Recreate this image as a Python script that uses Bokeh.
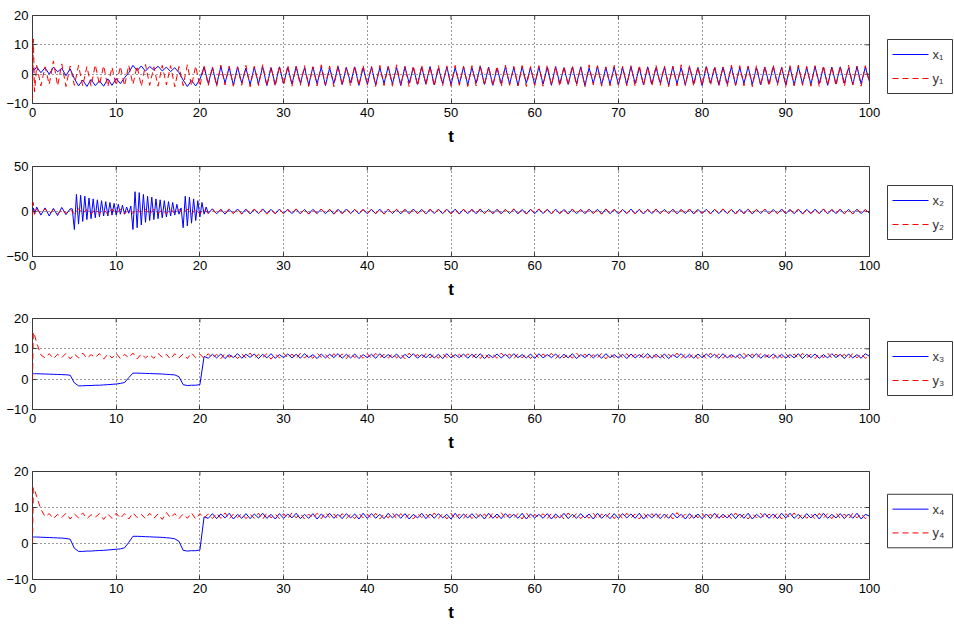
import numpy as np
from bokeh.plotting import figure
from bokeh.models import Range1d, FixedTicker
from bokeh.core.properties import value
from bokeh.layouts import column, row
from bokeh.embed import file_html
from bokeh.resources import INLINE

# sample times: three early samples, then every 0.5 up to 100
t_early = [0.0, 0.1, 0.25]
t = np.concatenate([t_early, np.arange(1, 201) * 0.5])
# x2 was read more finely during its bursts (4.75 .. 21 every 0.25)
t_x2 = np.concatenate([t_early, np.arange(1, 10) * 0.5,
                       np.arange(19, 85) * 0.25, np.arange(43, 201) * 0.5])

x_ticks = [0, 10, 20, 30, 40, 50, 60, 70, 80, 90, 100]

# ---------------- panel 1 ----------------
x1 = [0, 2, 1.5,
      2.5, 0.5, 2.2, 0.0, 2.4, 0.8, 2.0, -0.5, 1.8, -1.5, -4.0, -2.0, -4.2, -1.8, -3.9, -2.3, -4.1, -1.6, -3.8, -1.5,
      -3.2, -1.2, 0.5, 3.0, 1.2, 2.8, 1.0, 2.6, 1.4, 2.7, 1.1, 2.4, 0.9, 2.2, 0.5, -2.0, -4.2, -2.2, -4.0, -1.8,
      2.5, -3.2, 2.2, -3.6, 2.6, -3.0, 2.3, -3.8, 2.5, -3.1, 2.1, -3.6, 2.4, -3.3, 2.6, -3.9, 2.2, -3.5, 2.5, -3.2,
      2.3, -3.4, 2.6, -3.1, 2.2, -3.7, 2.5, -3.3, 2.4, -3.9, 2.1, -3.2, 2.6, -3.5, 2.3, -3.0, 2.5, -3.8, 2.2, -3.4,
      2.4, -3.6, 2.2, -3.2, 2.6, -3.4, 2.3, -3.9, 2.5, -3.1, 2.2, -3.5, 2.4, -3.3, 2.6, -3.7, 2.1, -3.2, 2.5, -3.6,
      2.2, -3.3, 2.5, -3.7, 2.3, -3.1, 2.6, -3.5, 2.4, -3.8, 2.1, -3.2, 2.5, -3.4, 2.3, -3.9, 2.6, -3.1, 2.2, -3.5,
      2.5, -3.4, 2.3, -3.8, 2.6, -3.2, 2.2, -3.5, 2.4, -3.3, 2.5, -3.9, 2.1, -3.1, 2.6, -3.6, 2.3, -3.4, 2.4, -3.7,
      2.3, -3.5, 2.6, -3.2, 2.2, -3.7, 2.5, -3.4, 2.3, -3.1, 2.4, -3.8, 2.6, -3.3, 2.2, -3.6, 2.5, -3.2, 2.3, -3.9,
      2.6, -3.1, 2.2, -3.6, 2.4, -3.4, 2.5, -3.8, 2.3, -3.2, 2.6, -3.5, 2.2, -3.7, 2.4, -3.3, 2.5, -3.1, 2.3, -3.6,
      2.4, -3.7, 2.5, -3.3, 2.2, -3.5, 2.6, -3.2, 2.3, -3.8, 2.4, -3.4, 2.5, -3.1, 2.2, -3.6, 2.6, -3.3, 2.4, -2.5]
y1 = [-9, 12, -6,
      3.0, -4.0, 2.5, -3.5, 4.5, -4.0, 3.5, -4.2, 2.8, -3.8, 3.0, -4.0, 2.6, -4.1, 3.2, -3.6, 2.9, -4.3, 2.4, -3.9,
      2.7, -4.0, 3.1, -3.5, 2.8, -4.2, 3.3, -3.8, 2.5, -4.1, 3.0, -3.7, 2.9, -4.3, 2.6, -3.9, 3.2, -4.0, 2.8, -4.2,
      2.9, -3.9, 2.6, -4.2, 3.1, -3.7, 2.8, -4.1, 2.5, -3.8, 3.0, -4.3, 2.7, -3.9, 3.2, -4.0, 2.6, -4.2, 2.9, -3.8,
      3.1, -4.1, 2.7, -3.8, 2.9, -4.2, 2.5, -4.0, 3.2, -3.7, 2.8, -4.3, 3.0, -3.9, 2.6, -4.1, 2.9, -4.0, 3.1, -3.8,
      2.8, -4.2, 3.0, -3.9, 2.6, -4.1, 3.2, -3.8, 2.7, -4.3, 2.9, -4.0, 3.1, -3.7, 2.5, -4.2, 3.0, -3.9, 2.8, -4.1,
      3.0, -3.8, 2.7, -4.2, 2.9, -4.0, 3.2, -3.9, 2.6, -4.1, 2.8, -4.3, 3.1, -3.8, 2.7, -4.0, 2.9, -4.2, 2.6, -3.9,
      2.9, -4.1, 3.1, -3.8, 2.7, -4.2, 2.8, -3.9, 3.0, -4.0, 2.6, -4.3, 3.2, -3.7, 2.9, -4.1, 2.5, -4.0, 3.0, -3.8,
      2.7, -4.0, 2.9, -4.2, 3.1, -3.9, 2.6, -4.1, 3.0, -3.8, 2.8, -4.3, 2.7, -4.0, 3.2, -3.9, 2.9, -4.2, 2.6, -4.0,
      3.0, -3.9, 2.8, -4.1, 2.6, -4.2, 3.1, -3.8, 2.9, -4.0, 2.7, -4.3, 3.0, -3.9, 2.8, -4.1, 3.2, -3.8, 2.6, -4.2,
      2.9, -4.0, 3.1, -3.8, 2.7, -4.1, 2.9, -4.3, 3.0, -3.9, 2.6, -4.0, 2.8, -4.2, 3.1, -3.7, 2.7, -4.1, 2.9, -3.0]

# ---------------- panel 2 ----------------
x2 = [0, 4, -3,
      5.0, -4.0, 4.0, -5.0, 3.5, -4.5, 4.5, -3.5, 3.0,
      3.0, -20.0, 19.0, -14.0, 18.0, -11.0, 17.0, -9.0, 15.0, -8.0, 14.0, -7.0, 13.0, -6.0, 12.0, -5.0, 11.0,
      -5.0, 10.0, -4.0, 9.0, -4.0, 8.0, -3.0, 7.0, -3.0, 5.0, -2.0, 6.0, -20.0, 22.0, -18.0, 21.0, -15.0, 19.0,
      -12.0, 17.0, -10.0, 16.0, -9.0, 14.0, -8.0, 13.0, -7.0, 12.0, -6.0, 11.0, -5.0, 10.0, -4.0, 8.0, -3.0, 4.0,
      -18.0, 17.0, -16.0, 16.0, -13.0, 14.0, -10.0, 12.0, -6.0, 10.0, -3.0, 5.0, -2.0,
      3.0, -2.6, 2.4, -2.9, 2.2, -2.3, 2.8, -2.5, 2.6, -2.7, 2.3, -2.4, 2.9, -2.2, 2.4, -2.6, 2.7, -2.4,
      2.5, -2.4, 2.7, -2.6, 2.3, -2.7, 2.4, -2.2, 2.6, -2.5, 2.3, -2.8, 2.5, -2.3, 2.7, -2.4, 2.2, -2.6, 2.4, -2.5,
      2.4, -2.5, 2.6, -2.7, 2.5, -2.3, 2.3, -2.6, 2.5, -2.4, 2.7, -2.5, 2.3, -2.7, 2.4, -2.3, 2.6, -2.5, 2.5, -2.4,
      2.6, -2.7, 2.3, -2.4, 2.5, -2.5, 2.7, -2.3, 2.4, -2.6, 2.5, -2.5, 2.4, -2.3, 2.7, -2.6, 2.3, -2.7, 2.5, -2.4,
      2.5, -2.3, 2.4, -2.6, 2.6, -2.4, 2.3, -2.7, 2.5, -2.5, 2.4, -2.4, 2.6, -2.3, 2.5, -2.7, 2.7, -2.5, 2.3, -2.6,
      2.4, -2.4, 2.7, -2.5, 2.3, -2.7, 2.5, -2.4, 2.6, -2.3, 2.4, -2.5, 2.5, -2.6, 2.3, -2.4, 2.6, -2.6, 2.4, -2.3,
      2.5, -2.6, 2.4, -2.4, 2.6, -2.3, 2.3, -2.6, 2.5, -2.5, 2.7, -2.7, 2.4, -2.3, 2.5, -2.5, 2.3, -2.4, 2.6, -2.5,
      2.3, -2.5, 2.5, -2.7, 2.4, -2.4, 2.6, -2.3, 2.7, -2.6, 2.3, -2.4, 2.5, -2.5, 2.4, -2.7, 2.5, -2.4, 2.3, -2.1]
y2 = [-5, 10, -3,
      2.5, -2.0, 3.0, -2.5, 2.0, -3.0, 2.8, -2.2, 2.4, -2.7, 3.1, -2.1, 2.2, -2.9, 2.7, -2.4, 2.1, -3.0, 2.9, -2.3,
      2.6, -2.8, 2.2, -2.1, 3.0, -2.6, 2.3, -3.1, 2.7, -2.2, 2.1, -2.7, 2.9, -2.4, 2.4, -2.0, 2.8, -2.9, 2.2, -2.5,
      3.0, -2.3, 2.5, -2.8, 2.2, -2.4, 2.9, -2.1, 2.6, -3.0, 2.3, -2.5, 2.8, -2.2, 2.1, -2.9, 2.7, -2.3, 2.4, -2.7,
      2.2, -2.6, 2.9, -2.3, 2.4, -2.9, 2.1, -2.5, 2.8, -2.2, 2.6, -3.0, 2.3, -2.4, 2.9, -2.1, 2.5, -2.8, 2.2, -2.6,
      2.7, -2.2, 2.3, -2.9, 2.8, -2.4, 2.5, -2.1, 2.2, -2.7, 3.0, -2.3, 2.4, -2.8, 2.6, -2.5, 2.1, -2.2, 2.9, -2.6,
      2.4, -2.9, 2.6, -2.2, 2.1, -2.6, 2.9, -2.4, 2.3, -2.1, 2.7, -2.8, 2.2, -2.5, 3.0, -2.3, 2.4, -2.9, 2.6, -2.2,
      2.9, -2.4, 2.2, -2.7, 2.6, -2.1, 2.4, -2.9, 2.8, -2.3, 2.1, -2.6, 2.7, -2.2, 2.3, -3.0, 2.9, -2.4, 2.5, -2.8,
      2.3, -2.1, 2.8, -2.6, 2.5, -2.9, 2.2, -2.3, 2.9, -2.5, 2.4, -2.2, 2.6, -2.8, 2.1, -2.4, 2.8, -2.7, 2.3, -2.1,
      2.6, -2.7, 2.4, -2.3, 2.9, -2.5, 2.1, -2.8, 2.5, -2.2, 2.8, -2.9, 2.3, -2.1, 2.7, -2.6, 2.2, -2.4, 3.0, -2.3,
      2.2, -2.5, 2.7, -2.9, 2.3, -2.2, 2.6, -2.4, 2.9, -2.7, 2.2, -2.1, 2.8, -2.6, 2.4, -2.8, 2.5, -2.3, 2.1, -2.0]

# ---------------- panel 3 ----------------
x3 = [1.8, 1.8, 1.8,
      1.8, 1.75, 1.7, 1.65, 1.6, 1.55, 1.5, 1.45, 1.3, -1.2, -2.2, -2.2, -2.1, -2.1, -2.0, -2.0, -1.9, -1.8, -1.7, -1.6,
      -1.4, -1.1, 0.5, 2.0, 2.0, 1.95, 1.9, 1.85, 1.8, 1.75, 1.7, 1.6, 1.5, 1.4, 0.8, -1.8, -2.1, -2.0, -2.0, -1.8,
      7.5, 6.9, 8.2, 7.0, 8.3, 6.8, 8.1, 7.1, 8.4, 6.9, 8.2, 7.2, 8.3, 6.8, 8.2, 7.0, 8.4, 6.9, 8.1, 7.1,
      8.3, 7.0, 8.2, 6.9, 8.4, 7.1, 8.1, 6.8, 8.3, 7.0, 8.2, 7.1, 8.4, 6.9, 8.2, 7.0, 8.3, 6.8, 8.1, 7.1,
      8.2, 6.9, 8.4, 7.0, 8.1, 7.1, 8.3, 6.8, 8.2, 7.0, 8.4, 6.9, 8.1, 7.1, 8.3, 7.0, 8.2, 6.8, 8.4, 7.0,
      8.1, 7.1, 8.3, 6.9, 8.2, 7.0, 8.4, 6.8, 8.1, 7.1, 8.3, 7.0, 8.2, 6.9, 8.4, 7.1, 8.1, 7.0, 8.3, 6.8,
      8.4, 7.0, 8.1, 7.1, 8.3, 6.9, 8.2, 7.0, 8.4, 6.8, 8.1, 7.1, 8.3, 7.0, 8.2, 6.9, 8.4, 7.1, 8.1, 7.0,
      8.2, 6.8, 8.3, 7.0, 8.1, 7.1, 8.4, 6.9, 8.2, 7.0, 8.3, 6.8, 8.1, 7.1, 8.4, 7.0, 8.2, 6.9, 8.3, 7.1,
      8.3, 7.1, 8.2, 6.9, 8.4, 7.0, 8.1, 7.1, 8.3, 6.8, 8.2, 7.0, 8.4, 6.9, 8.1, 7.1, 8.3, 7.0, 8.2, 6.9,
      8.1, 7.0, 8.4, 6.8, 8.2, 7.1, 8.3, 6.9, 8.1, 7.0, 8.4, 7.1, 8.2, 6.8, 8.3, 7.0, 8.1, 6.9, 8.4, 7.5]
y3 = [0, 15.5, 14.5,
      12.0, 8.0, 7.0, 8.4, 6.8, 8.2, 7.1, 8.5, 6.7, 8.3, 7.0, 8.6, 6.9, 8.1, 7.2, 8.4, 6.6, 8.3, 7.0, 8.5,
      6.8, 8.2, 7.1, 8.6, 6.7, 8.3, 7.0, 8.1, 6.9, 8.5, 7.2, 8.2, 6.6, 8.4, 7.0, 8.3, 6.8, 8.6, 7.1, 8.2,
      6.9, 8.4, 7.0, 8.2, 6.7, 8.5, 7.2, 8.1, 6.8, 8.3, 7.0, 8.6, 6.9, 8.2, 7.1, 8.4, 6.6, 8.3, 7.0, 8.5,
      7.1, 8.3, 6.8, 8.5, 7.0, 8.2, 6.9, 8.6, 7.2, 8.1, 6.7, 8.4, 7.0, 8.3, 6.8, 8.5, 7.1, 8.2, 6.9, 8.4,
      6.8, 8.5, 7.1, 8.2, 6.9, 8.4, 7.0, 8.3, 6.7, 8.6, 7.2, 8.1, 6.8, 8.4, 7.0, 8.2, 6.9, 8.5, 7.1, 8.3,
      7.0, 8.2, 6.9, 8.4, 7.1, 8.3, 6.8, 8.5, 7.0, 8.1, 6.9, 8.6, 7.2, 8.3, 6.7, 8.4, 7.0, 8.2, 6.8, 8.5,
      6.9, 8.3, 7.2, 8.5, 6.8, 8.2, 7.0, 8.4, 6.9, 8.6, 7.1, 8.3, 6.8, 8.1, 7.0, 8.5, 6.7, 8.3, 7.1, 8.4,
      7.1, 8.4, 6.8, 8.2, 7.0, 8.5, 6.9, 8.3, 7.2, 8.4, 6.8, 8.2, 7.0, 8.6, 6.9, 8.3, 7.1, 8.5, 6.8, 8.2,
      6.8, 8.6, 7.0, 8.3, 6.9, 8.4, 7.1, 8.2, 6.8, 8.5, 7.0, 8.3, 6.9, 8.4, 7.2, 8.1, 6.8, 8.5, 7.0, 8.3,
      7.0, 8.3, 6.9, 8.5, 7.1, 8.2, 6.8, 8.4, 7.0, 8.6, 6.9, 8.3, 7.1, 8.2, 6.8, 8.5, 7.0, 8.4, 6.9, 7.6]

# ---------------- panel 4 ----------------
x4 = [1.8, 1.8, 1.8,
      1.8, 1.75, 1.7, 1.65, 1.6, 1.55, 1.5, 1.4, 1.2, -1.3, -2.2, -2.2, -2.1, -2.1, -2.0, -1.95, -1.9, -1.8, -1.7, -1.6,
      -1.5, -1.2, 0.3, 2.0, 2.0, 1.95, 1.9, 1.85, 1.8, 1.75, 1.7, 1.6, 1.5, 1.3, 0.6, -1.9, -2.1, -2.0, -2.0, -1.8,
      7.4, 7.0, 8.3, 6.9, 8.2, 7.1, 8.4, 6.8, 8.1, 7.0, 8.3, 6.9, 8.2, 7.1, 8.4, 7.0, 8.1, 6.8, 8.3, 7.0,
      8.2, 7.1, 8.4, 6.9, 8.1, 7.0, 8.3, 6.8, 8.2, 7.1, 8.4, 7.0, 8.1, 6.9, 8.3, 7.1, 8.2, 6.8, 8.4, 7.0,
      8.3, 7.0, 8.1, 6.9, 8.4, 7.1, 8.2, 7.0, 8.3, 6.8, 8.1, 7.1, 8.4, 6.9, 8.2, 7.0, 8.3, 7.1, 8.1, 6.8,
      8.4, 6.9, 8.2, 7.1, 8.3, 7.0, 8.1, 6.8, 8.4, 7.0, 8.2, 6.9, 8.3, 7.1, 8.1, 7.0, 8.4, 6.8, 8.2, 7.1,
      8.1, 7.0, 8.3, 6.8, 8.2, 7.1, 8.4, 6.9, 8.1, 7.0, 8.3, 7.1, 8.2, 6.8, 8.4, 7.0, 8.1, 6.9, 8.3, 7.0,
      8.3, 7.1, 8.2, 7.0, 8.4, 6.8, 8.1, 7.1, 8.3, 6.9, 8.2, 7.0, 8.4, 7.1, 8.1, 6.8, 8.3, 7.0, 8.2, 6.9,
      8.2, 6.9, 8.4, 7.0, 8.1, 7.1, 8.3, 6.9, 8.2, 7.0, 8.4, 6.8, 8.1, 7.1, 8.3, 7.0, 8.2, 6.9, 8.4, 7.1,
      8.4, 7.0, 8.1, 6.9, 8.3, 7.1, 8.2, 6.8, 8.4, 7.0, 8.1, 7.1, 8.3, 6.9, 8.2, 7.0, 8.4, 6.8, 8.1, 7.6]
y4 = [0, 15.5, 15.0,
      13.0, 9.5, 7.5, 8.3, 6.9, 8.1, 7.2, 8.4, 6.8, 8.2, 7.1, 8.5, 6.9, 8.0, 7.3, 8.3, 6.7, 8.2, 7.0, 8.4,
      7.0, 8.3, 6.8, 8.5, 7.2, 8.1, 6.9, 8.4, 7.0, 8.2, 6.7, 8.6, 7.1, 8.3, 6.9, 8.2, 7.0, 8.5, 6.8, 8.3,
      7.1, 8.2, 6.9, 8.4, 7.0, 8.5, 6.8, 8.2, 7.2, 8.3, 6.9, 8.1, 7.0, 8.4, 6.7, 8.5, 7.1, 8.2, 6.9, 8.3,
      6.9, 8.5, 7.1, 8.3, 6.8, 8.2, 7.0, 8.4, 6.9, 8.6, 7.2, 8.2, 6.8, 8.3, 7.0, 8.1, 6.9, 8.4, 7.1, 8.2,
      7.0, 8.4, 6.8, 8.2, 7.1, 8.5, 6.9, 8.3, 7.0, 8.1, 6.8, 8.4, 7.2, 8.2, 6.9, 8.5, 7.0, 8.3, 6.8, 8.4,
      6.8, 8.2, 7.0, 8.5, 6.9, 8.3, 7.1, 8.2, 6.8, 8.4, 7.0, 8.6, 6.9, 8.2, 7.1, 8.3, 6.8, 8.5, 7.0, 8.1,
      7.2, 8.3, 6.9, 8.4, 7.0, 8.2, 6.8, 8.5, 7.1, 8.3, 6.9, 8.1, 7.0, 8.4, 6.8, 8.2, 7.2, 8.5, 6.9, 8.3,
      6.9, 8.4, 7.1, 8.2, 6.8, 8.5, 7.0, 8.3, 6.9, 8.2, 7.1, 8.4, 6.8, 8.6, 7.0, 8.2, 6.9, 8.3, 7.1, 8.4,
      7.0, 8.2, 6.8, 8.4, 7.1, 8.3, 6.9, 8.5, 7.0, 8.2, 6.8, 8.3, 7.1, 8.4, 6.9, 8.2, 7.0, 8.5, 6.8, 8.3,
      7.1, 8.5, 6.9, 8.3, 7.0, 8.2, 6.8, 8.4, 7.1, 8.3, 6.9, 8.5, 7.0, 8.2, 6.8, 8.4, 7.1, 8.3, 6.9, 7.8]

panels = [
    dict(tx=t, x=x1, y=y1, lx="x\u2081", ly="y\u2081", yr=(-10, 20), yt=[-10, 0, 10, 20],
         h=155, top=15, bottom=52, leg=10),
    dict(tx=t_x2, x=x2, y=y2, lx="x\u2082", ly="y\u2082", yr=(-50, 50), yt=[-50, 0, 50],
         h=153, top=11, bottom=52, leg=17),
    dict(tx=t, x=x3, y=y3, lx="x\u2083", ly="y\u2083", yr=(-10, 20), yt=[-10, 0, 10, 20],
         h=152, top=10, bottom=51, leg=14),
    dict(tx=t, x=x4, y=y4, lx="x\u2084", ly="y\u2084", yr=(-10, 20), yt=[-10, 0, 10, 20],
         h=164, top=11, bottom=44, leg=32),
]

FONT = "Liberation Sans"
FRAME = "#3a3a3a"
BLUE = "#0000ff"
RED = "#ff0000"
DASH = "6 4"
MAIN_W = 886
LEG_W = 954 - MAIN_W
# legend box geometry, in pixels inside the legend strip
BOX_L, BOX_R, BOX_H = 1, 66, 54
KEY_L, KEY_R, LABEL_X = 6, 42, 46


def make_panel(cfg):
    ylo, yhi = cfg["yr"]
    p = figure(width=MAIN_W, height=cfg["h"], output_backend="svg", toolbar_location=None,
               x_range=Range1d(0, 100), y_range=Range1d(ylo, yhi),
               min_border_left=32, min_border_right=17,
               min_border_top=cfg["top"], min_border_bottom=cfg["bottom"],
               x_axis_label="t")
    p.background_fill_color = "white"
    p.border_fill_color = "white"
    p.outline_line_color = FRAME
    p.outline_line_width = 1

    for ax in (p.xaxis[0], p.yaxis[0]):
        ax.major_tick_in = 4
        ax.major_tick_out = 0
        ax.major_tick_line_color = FRAME
        ax.minor_tick_line_color = None
        ax.axis_line_color = None
        ax.major_label_text_font = FONT
        ax.major_label_text_font_size = "13px"
        ax.major_label_text_color = "black"
        ax.major_label_standoff = 4
    p.xaxis[0].ticker = FixedTicker(ticks=x_ticks)
    p.yaxis[0].ticker = FixedTicker(ticks=cfg["yt"])
    p.xaxis[0].axis_label_text_font = FONT
    p.xaxis[0].axis_label_text_font_style = "bold"
    p.xaxis[0].axis_label_text_font_size = "17px"
    p.xaxis[0].axis_label_text_color = "black"
    p.xaxis[0].axis_label_standoff = 7

    p.xgrid.ticker = FixedTicker(ticks=x_ticks)
    p.ygrid.ticker = FixedTicker(ticks=cfg["yt"])
    for g in (p.xgrid[0], p.ygrid[0]):
        g.grid_line_color = "black"
        g.grid_line_alpha = 0.8
        g.grid_line_dash = "1 3"
        g.grid_line_width = 1

    # MATLAB-style inward ticks on the top and right edges of the box
    p.scatter(x_ticks, [yhi] * len(x_ticks), marker="dash", size=8, angle=np.pi / 2,
              line_color=FRAME, line_width=1)
    p.scatter([100] * len(cfg["yt"]), cfg["yt"], marker="dash", size=8,
              line_color=FRAME, line_width=1)

    p.line(cfg["tx"], cfg["x"], line_color=BLUE, line_width=1)
    p.line(t, cfg["y"], line_color=RED, line_width=1, line_dash=DASH)

    # legend strip to the right of the axes; its frame is aligned with the axes frame,
    # and its ranges are in pixels so the legend box can be drawn directly
    frame_h = cfg["h"] - cfg["top"] - cfg["bottom"]
    lf = figure(width=LEG_W, height=cfg["h"], output_backend="svg", toolbar_location=None,
                x_axis_type=None, y_axis_type=None, min_border=0,
                x_range=Range1d(0, LEG_W), y_range=Range1d(0, frame_h))
    lf.outline_line_color = None
    lf.background_fill_color = "white"
    lf.border_fill_color = "white"
    b = cfg["leg"]
    lf.quad(left=[BOX_L], right=[BOX_R], bottom=[b], top=[b + BOX_H],
            fill_color="white", line_color=FRAME, line_width=1)
    y_top_row = b + BOX_H - 5 - 10
    y_bot_row = b + 5 + 10
    lf.segment(x0=[KEY_L], x1=[KEY_R], y0=[y_top_row], y1=[y_top_row],
               line_color=BLUE, line_width=1)
    lf.segment(x0=[KEY_L], x1=[KEY_R], y0=[y_bot_row], y1=[y_bot_row],
               line_color=RED, line_width=1, line_dash=DASH)
    lf.text(x=[LABEL_X, LABEL_X], y=[y_top_row, y_bot_row], text=[cfg["lx"], cfg["ly"]],
            text_font=value(FONT), text_font_size="13px", text_color="#333333",
            text_baseline="middle", text_align="left")
    return row(p, lf, spacing=0)


rows = [make_panel(c) for c in panels]
layout = column(*rows, spacing=0)

open("out.html", "w").write(file_html(layout, INLINE))
